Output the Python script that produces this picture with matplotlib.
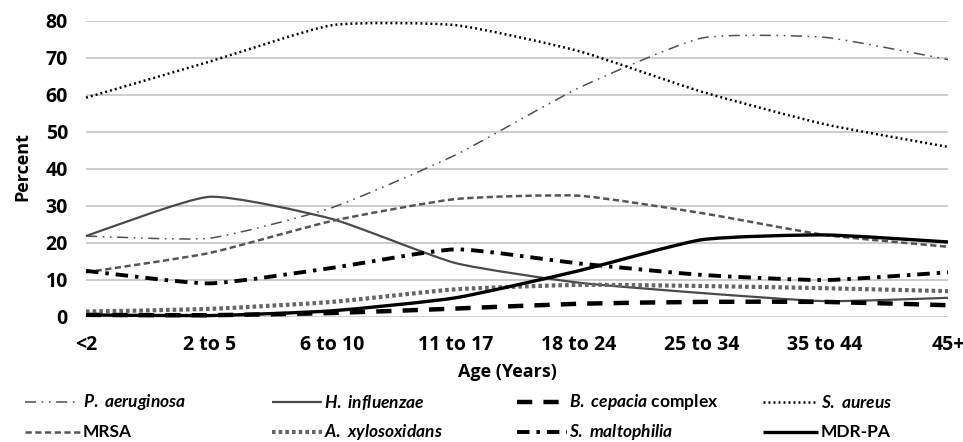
import matplotlib
matplotlib.use("Agg")
import matplotlib.pyplot as plt
from matplotlib.path import Path
from matplotlib.patches import PathPatch
from matplotlib.lines import Line2D
import numpy as np

plt.rcParams['lines.scale_dashes'] = False
plt.rcParams['mathtext.fontset'] = 'custom'
plt.rcParams['mathtext.it'] = 'Lato:bold:italic'
plt.rcParams['mathtext.rm'] = 'Lato:bold'
plt.rcParams['mathtext.bf'] = 'Lato:bold'

categories = ["<2", "2 to 5", "6 to 10", "11 to 17", "18 to 24", "25 to 34", "35 to 44", "45+"]
p_aeruginosa = [21.8, 21.2, 29.5, 43.7, 61.8, 75.3, 75.5, 69.5]
h_influenzae = [21.8, 32.4, 26.4, 14.5, 9.2, 6.4, 4.2, 5.1]
b_cepacia = [0.5, 0.4, 1.0, 2.2, 3.5, 4.0, 4.0, 3.1]
s_aureus = [59.2, 68.9, 78.8, 78.8, 71.8, 60.8, 52.0, 45.9]
mrsa = [12.0, 17.2, 25.9, 31.8, 32.7, 28.0, 22.1, 18.9]
a_xylosoxidans = [1.4, 2.1, 4.0, 7.4, 8.6, 8.3, 7.7, 6.9]
s_maltophilia = [12.4, 9.0, 13.2, 18.2, 14.4, 11.3, 9.9, 12.0]
mdr_pa = [0.5, 0.3, 1.6, 5.1, 12.4, 20.8, 22.1, 20.2]

series = [
    (p_aeruginosa, r"$P.$ $aeruginosa$", dict(color="#505050", lw=1.1, ls=(0, (8, 4, 1.2, 4, 1.2, 4)))),
    (h_influenzae, r"$H.$ $influenzae$", dict(color="#4a4a4a", lw=1.6, ls="-")),
    (b_cepacia, r"$B.$ $cepacia$ complex", dict(color="black", lw=3.2, ls=(0, (11, 8)))),
    (s_aureus, r"$S.$ $aureus$", dict(color="black", lw=1.8, ls=(0, (1.4, 2.2)))),
    (mrsa, "MRSA", dict(color="#555555", lw=1.8, ls=(0, (4.5, 2.5)))),
    (a_xylosoxidans, r"$A.$ $xylosoxidans$", dict(color="#666666", lw=3.0, ls=(0, (2.6, 2.2)))),
    (s_maltophilia, r"$S.$ $maltophilia$", dict(color="black", lw=2.8, ls=(0, (9, 5, 2.5, 5)))),
    (mdr_pa, "MDR-PA", dict(color="black", lw=2.4, ls="-")),
]

W, H = 963, 442
fig = plt.figure(figsize=(W / 100, H / 100), dpi=100)
left, right, top, bottom = 86, 948, 20.7, 316.7
ax = fig.add_axes([left / W, (H - bottom) / H, (right - left) / W, (bottom - top) / H])

x = np.arange(len(categories))


def smooth_path(xs, ys, k=0.09):
    pts = np.column_stack([xs, ys]).astype(float)
    n = len(pts)
    verts = [pts[0]]
    codes = [Path.MOVETO]
    for i in range(n - 1):
        p0 = pts[i - 1] if i > 0 else pts[i]
        p1 = pts[i]
        p2 = pts[i + 1]
        p3 = pts[i + 2] if i + 2 < n else pts[i + 1]
        c1 = p1 + (p2 - p0) * k
        c2 = p2 - (p3 - p1) * k
        verts += [c1, c2, p2]
        codes += [Path.CURVE4] * 3
    return Path(verts, codes)


for vals, label, st in series:
    patch = PathPatch(smooth_path(x, vals), fill=False, edgecolor=st["color"],
                      linewidth=st["lw"], linestyle=st["ls"], clip_on=False,
                      capstyle="butt", joinstyle="round", zorder=3)
    ax.add_patch(patch)

ax.set_xlim(0, len(categories) - 1)
ax.set_ylim(0, 80)
ax.set_yticks(range(0, 81, 10))
ax.set_xticks(x)
ax.set_xticklabels(categories)
ax.grid(axis="y", color="#c8c8c8", lw=1.3)
ax.set_axisbelow(True)
for s in ax.spines.values():
    s.set_visible(False)
ax.tick_params(length=0)
ax.tick_params(axis="y", pad=13)
ax.tick_params(axis="x", pad=13)
narrow = dict(family="Open Sans", stretch="condensed", weight="bold")
for t in ax.get_xticklabels() + ax.get_yticklabels():
    t.set_fontfamily("Open Sans")
    t.set_fontstretch("condensed")
    t.set_fontweight("bold")
    t.set_fontsize(14)

fig.text(507 / W, 1 - 372 / H, "Age (Years)", ha="center", va="center", size=13, **narrow)
fig.text(22 / W, 1 - 167 / H, "Percent", ha="center", va="center", rotation=90, size=13, **narrow)

# legend (manual)
rows = [402, 432]
cols = [(25, 80, 83), (272, 322, 324), (517, 567, 569), (763, 818, 821)]
for i, (vals, label, st) in enumerate(series):
    r = i // 4
    c = i % 4
    x0, x1, xt = cols[c]
    y = 1 - rows[r] / H
    fig.add_artist(Line2D([x0 / W, x1 / W], [y, y], transform=fig.transFigure,
                          color=st["color"], lw=st["lw"], ls=st["ls"],
                          solid_capstyle="butt", dash_capstyle="butt"))
    fig.text(xt / W, y, label, ha="left", va="center", family="Lato", weight="bold", size=12.5)

fig.savefig("out.png", dpi=100)
